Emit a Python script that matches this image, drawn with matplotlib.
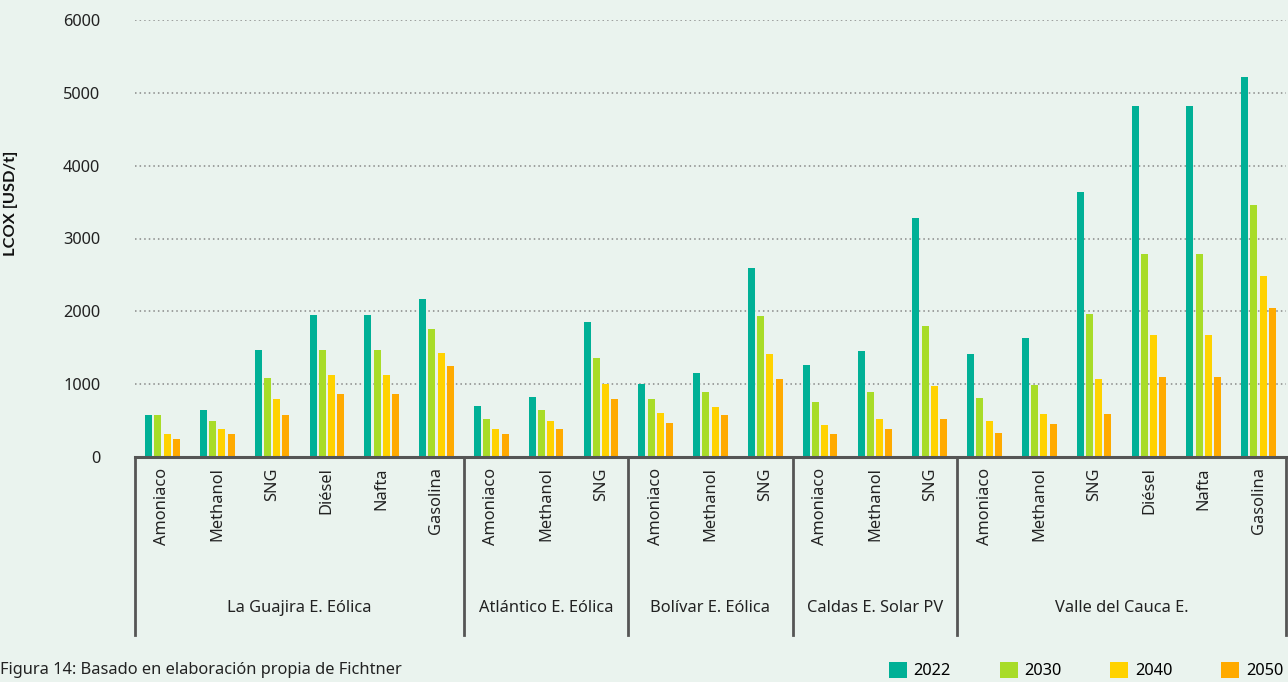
import numpy as np
import matplotlib.pyplot as plt
import matplotlib.transforms as mtransforms

plt.rcParams['font.family'] = ['Noto Sans', 'DejaVu Sans']

groups = ['La Guajira E. Eólica', 'Atlántico E. Eólica', 'Bolívar E. Eólica',
          'Caldas E. Solar PV', 'Valle del Cauca E.']
products = [
    ['Amoniaco', 'Methanol', 'SNG', 'Diésel', 'Nafta', 'Gasolina'],
    ['Amoniaco', 'Methanol', 'SNG'],
    ['Amoniaco', 'Methanol', 'SNG'],
    ['Amoniaco', 'Methanol', 'SNG'],
    ['Amoniaco', 'Methanol', 'SNG', 'Diésel', 'Nafta', 'Gasolina'],
]
years = ['2022', '2030', '2040', '2050']

v2022 = [580, 640, 1470, 1945, 1945, 2170,
         700, 820, 1860,
         1000, 1150, 2600,
         1265, 1460, 3280,
         1410, 1630, 3640, 4815, 4815, 5220]
v2030 = [580, 490, 1080, 1470, 1470, 1760,
         520, 640, 1360,
         790, 890, 1940,
         750, 890, 1800,
         810, 990, 1960, 2790, 2790, 3455]
v2040 = [320, 380, 800, 1130, 1130, 1430,
         380, 490, 1000,
         600, 680, 1420,
         440, 520, 980,
         490, 590, 1065, 1675, 1675, 2480]
v2050 = [250, 320, 580, 870, 870, 1250,
         320, 380, 790,
         460, 570, 1070,
         310, 385, 525,
         325, 450, 590, 1105, 1105, 2040]

colors = ['#00B096', '#A8DC28', '#FFD200', '#FFAA00']
bg = '#EAF3EE'
axis_col = '#555555'
fs = 11.8

fig = plt.figure(figsize=(12.88, 6.82), dpi=100, facecolor=bg)
ax = fig.add_axes([135 / 1288, 1 - 457 / 682, 1151 / 1288, 437 / 682])
ax.set_facecolor(bg)

labels = [p for grp in products for p in grp]
x = np.arange(len(labels))
offs = np.array([-1.5, -0.5, 0.5, 1.5]) * 0.168
width = 0.128
for vals, off, col, yr in zip([v2022, v2030, v2040, v2050], offs, colors, years):
    ax.bar(x + off, vals, width, color=col, label=yr, zorder=3)

ax.set_xlim(-0.5, len(labels) - 0.5)
ax.set_ylim(0, 6000)
ax.set_yticks(np.arange(0, 6001, 1000))
ax.tick_params(axis='y', length=0, pad=25, labelsize=fs, labelcolor='#222222')
ax.set_xticks([])
ax.yaxis.grid(True, linestyle=(0, (1, 2)), color='#888888', linewidth=1.1, zorder=0)
for s in ['left', 'right', 'top']:
    ax.spines[s].set_visible(False)
ax.spines['bottom'].set_color(axis_col)
ax.spines['bottom'].set_linewidth(2.2)
ax.spines['bottom'].set_zorder(4)

ax.set_ylabel('LCOX [USD/t]', fontsize=fs, fontweight='bold', color='#111111',
              family=['Lato', 'DejaVu Sans'])
ax.yaxis.set_label_coords(-(135 - 18) / 1151, 0.58)

trans = mtransforms.blended_transform_factory(ax.transData, ax.transAxes)
for xi, lab in zip(x, labels):
    ax.text(xi, -0.024, lab, rotation=90, ha='center', va='top', fontsize=fs,
            color='#222222', transform=trans)

bounds = np.cumsum([0] + [len(p) for p in products]) - 0.5
for b in bounds:
    ax.plot([b, b], [0, -0.407], color=axis_col, lw=2, transform=trans, clip_on=False)
for g, lo, hi in zip(groups, bounds[:-1], bounds[1:]):
    ax.text((lo + hi) / 2, -0.346, g, ha='center', va='center', fontsize=fs,
            color='#222222', transform=trans)

fig.text(0, 1 - 670 / 682, 'Figura 14: Basado en elaboración propia de Fichtner',
         ha='left', va='center', fontsize=fs, color='#222222')

fig.legend(loc='upper left', bbox_to_anchor=(889 / 1288, 1 - 662 / 682), ncol=4,
           frameon=False, fontsize=fs, handlelength=1.1, handleheight=1.1,
           handletextpad=0.4, columnspacing=2.98, borderpad=0, borderaxespad=0)

fig.savefig('out.png', dpi=100, facecolor=bg)
